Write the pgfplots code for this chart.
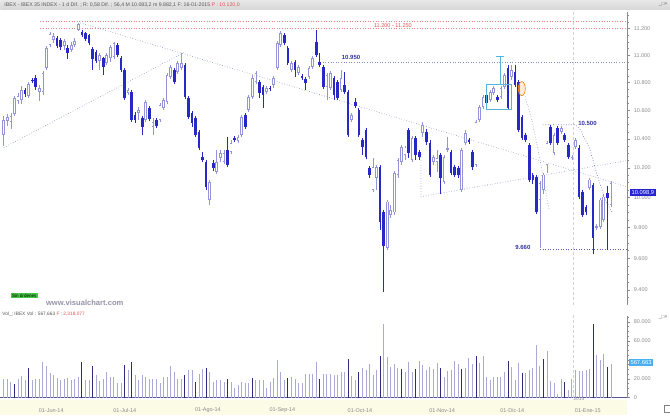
\documentclass[border=0pt]{standalone}
\usepackage{fontspec}
\setmainfont{Liberation Sans}
\usepackage{pgfplots}
\usepackage{pgfplotstable}
\pgfplotsset{compat=1.18}
\definecolor{cdown}{HTML}{2828C4}
\definecolor{cup}{HTML}{9494DA}
\definecolor{vlight}{HTML}{AAAAD6}
\definecolor{vdark}{HTML}{2C2C7A}
\definecolor{trend}{HTML}{8090BC}
\definecolor{axgray}{HTML}{8A8A8A}
\definecolor{lblue}{HTML}{3434A4}
\definecolor{rred}{HTML}{E05050}
\definecolor{boxcyan}{HTML}{58B2DE}
\definecolor{cream}{HTML}{FCFBE6}
\definecolor{pricebox}{HTML}{2424D0}
\definecolor{volbox}{HTML}{4AAEF0}
\definecolor{sgreen}{HTML}{44C844}
\definecolor{wmgray}{HTML}{9494A8}
\newcommand{\fs}[1]{\fontsize{#1}{#1}\selectfont}
\pgfplotsset{candle/.style={draw=none, mark=none, forget plot}}

\pgfplotstableread{
i o h l c
0 10430 10564 10354 10535
1 10528 10578 10493 10557
2 10521 10585 10472 10564
3 10578 10706 10564 10692
4 10670 10728 10649 10706
5 10678 10778 10649 10749
6 10749 10764 10699 10721
7 10706 10807 10692 10793
8 10821 10836 10800 10814
9 10836 10858 10749 10771
10 10735 10785 10670 10764
11 10735 10887 10713 10872
12 10909 11071 10894 11056
13 11078 11175 11063 11160
14 11115 11168 11093 11145
15 11130 11145 11056 11071
16 11115 11130 11041 11063
17 11071 11123 11041 11108
18 11056 11078 10975 11019
19 11041 11100 11026 11078
20 11078 11130 11063 11108
21 11190 11242 11182 11235
22 11175 11190 11138 11152
23 11168 11175 11108 11123
24 11152 11160 11078 11093
25 11048 11063 10894 10975
26 11026 11041 10945 10960
27 10960 11019 10894 11004
28 10982 10990 10858 10916
29 10945 11019 10931 11004
30 10982 11078 10953 11063
31 10990 11100 10975 11093
32 11078 11093 10990 11004
33 10982 10997 10880 10894
34 10894 10909 10678 10692
35 10728 10764 10713 10749
36 10735 10749 10521 10535
37 10571 10592 10514 10535
38 10585 10628 10535 10606
39 10550 10564 10430 10486
40 10535 10678 10521 10663
41 10621 10635 10528 10543
42 10486 10550 10430 10521
43 10535 10550 10479 10493
44 10535 10656 10521 10642
45 10621 10692 10606 10678
46 10663 10872 10649 10858
47 10843 10931 10829 10916
48 10894 10909 10793 10807
49 10880 10960 10865 10945
50 10909 11019 10894 10945
51 10931 10945 10685 10699
52 10692 10706 10543 10557
53 10585 10599 10486 10514
54 10550 10564 10416 10430
55 10451 10465 10326 10340
56 10278 10312 10243 10257
57 10243 10257 10053 10073
58 9986 10121 9953 10107
59 10237 10257 10182 10202
60 10175 10326 10161 10243
61 10271 10326 10243 10305
62 10243 10326 10230 10305
63 10326 10416 10209 10223
64 10312 10395 10298 10375
65 10409 10423 10381 10395
66 10388 10430 10375 10416
67 10430 10571 10416 10557
68 10571 10585 10472 10486
69 10606 10713 10592 10699
70 10699 10858 10685 10836
71 10807 10887 10793 10872
72 10807 10821 10692 10728
73 10771 10785 10621 10713
74 10735 10778 10721 10764
75 10764 10778 10742 10756
76 10785 10851 10764 10836
77 10909 11108 10894 11093
78 11078 11182 11063 11168
79 11152 11168 11078 11093
80 11056 11071 10931 10945
81 10894 10960 10880 10945
82 10953 10967 10843 10894
83 10872 10931 10858 10916
84 10851 10865 10821 10836
85 10829 10843 10749 10800
86 10843 10923 10829 10909
87 10916 10997 10901 10982
88 11100 11190 10990 11004
89 10953 11019 10916 10931
90 10916 10931 10756 10771
91 10771 10872 10678 10858
92 10764 10887 10749 10872
93 10836 10851 10678 10713
94 10807 10821 10678 10692
95 10749 10894 10735 10836
96 10785 10880 10721 10735
97 10735 10749 10416 10430
98 10535 10585 10521 10571
99 10663 10692 10621 10635
100 10606 10621 10416 10430
101 10395 10409 10291 10347
102 10465 10479 10264 10278
103 10202 10216 10134 10155
104 10053 10271 10040 10209
105 10134 10223 10053 10209
106 10209 10223 9787 9840
107 9906 9919 9383 9677
108 9670 9986 9657 9973
109 9886 9953 9866 9919
110 9900 10182 9886 10168
111 10155 10271 10134 10257
112 10243 10361 10223 10347
113 10291 10354 10257 10340
114 10465 10479 10271 10305
115 10257 10423 10243 10409
116 10409 10423 10257 10291
117 10312 10326 10257 10278
118 10444 10521 10416 10500
119 10451 10472 10361 10381
120 10375 10395 10141 10155
121 10243 10291 10223 10278
122 10243 10326 10175 10271
123 10291 10305 10020 10134
124 10107 10291 10094 10278
125 10326 10416 10312 10340
126 10312 10326 10155 10168
127 10209 10223 10141 10155
128 10202 10216 10134 10155
129 10053 10340 10040 10326
130 10375 10465 10361 10444
131 10395 10409 10368 10381
132 10312 10326 10189 10209
133 10223 10535 10209 10521
134 10535 10642 10521 10628
135 10628 10713 10613 10699
136 10713 10728 10642 10656
137 10678 10749 10663 10735
138 10728 10778 10713 10764
139 10699 10713 10663 10678
140 10699 10778 10685 10764
141 10771 10872 10756 10858
142 10909 10931 10606 10621
143 10843 10931 10821 10894
144 10880 10931 10771 10785
145 10807 10821 10451 10465
146 10557 10571 10395 10409
147 10430 10444 10381 10395
148 10361 10375 10107 10121
149 10155 10168 10094 10121
150 10141 10155 9893 9906
151 9986 10114 9670 10100
152 10053 10168 10020 10155
153 10223 10388 10168 10375
154 10486 10500 10361 10375
155 10305 10444 10291 10430
156 10479 10493 10361 10375
157 10451 10493 10437 10479
158 10430 10444 10381 10395
159 10361 10375 10264 10278
160 10271 10291 10257 10278
161 10347 10409 10333 10395
162 10340 10361 9993 10006
163 10040 10053 9873 9886
164 9939 9953 9886 9900
165 10067 10134 10053 10121
166 10087 10100 9625 9735
167 9800 9827 9787 9814
168 9807 9999 9794 9986
169 9853 10020 9840 10006
170 10033 10080 9657 9999
171 9953 10114 9939 10099
}\candles

\pgfplotstableread{
i v d
0 20200 0
1 20200 0
2 16700 0
3 14200 1
4 20200 0
5 22700 0
6 18500 0
7 31800 1
8 18500 0
9 20200 0
10 20200 0
11 37800 0
12 33200 0
13 26200 0
14 23700 0
15 21300 0
16 18500 0
17 20200 0
18 21300 0
19 19200 0
20 20200 0
21 22000 0
22 37800 1
23 18500 0
24 18500 0
25 33200 1
26 23700 0
27 17800 0
28 20200 0
29 27300 0
30 22000 0
31 22000 0
32 15700 0
33 15700 0
34 34300 1
35 29000 0
36 37800 1
37 23700 0
38 18500 0
39 23700 0
40 22000 0
41 20200 0
42 20200 0
43 19500 0
44 15700 0
45 22000 0
46 22000 0
47 33200 0
48 27300 0
49 19500 0
50 19500 0
51 23700 1
52 29700 0
53 29700 0
54 16700 1
55 25500 0
56 30800 0
57 31800 1
58 27300 0
59 16700 0
60 18500 0
61 18500 0
62 16700 0
63 19500 1
64 16700 0
65 10700 0
66 13200 0
67 16700 0
68 15000 0
69 15000 0
70 21300 1
71 18500 0
72 18500 0
73 18500 0
74 10700 0
75 16700 0
76 21300 0
77 39600 0
78 27300 0
79 18500 0
80 21300 1
81 22000 0
82 20200 0
83 15700 0
84 15700 0
85 25500 0
86 24800 0
87 25500 0
88 37800 0
89 19500 1
90 25500 0
91 25500 0
92 25500 0
93 23700 0
94 23700 0
95 27300 0
96 27300 0
97 40600 1
98 23000 0
99 19200 0
100 27300 1
101 31800 0
102 29700 0
103 36100 0
104 23700 0
105 29700 0
106 43800 1
107 78300 0
108 43100 0
109 32500 0
110 36100 0
111 31800 0
112 30800 1
113 27300 0
114 37800 0
115 27300 0
116 30800 1
117 38900 0
118 34300 0
119 29700 0
120 32500 0
121 30800 0
122 36800 0
123 31800 1
124 22000 0
125 28300 0
126 29000 0
127 38900 0
128 35400 0
129 30800 1
130 31800 0
131 42400 0
132 36100 0
133 43800 1
134 36800 0
135 43800 0
136 22000 0
137 19200 0
138 22000 0
139 22000 0
140 22000 0
141 27300 0
142 38900 1
143 32500 0
144 18500 0
145 36800 0
146 26200 1
147 26200 0
148 29000 0
149 31800 0
150 55400 0
151 33200 0
152 41300 1
153 49400 0
154 17800 0
155 15700 0
156 4400 0
157 20200 0
158 16700 1
159 7900 0
160 20200 0
161 29700 0
162 28300 0
163 28300 0
164 29700 0
165 30800 0
166 78300 1
167 44900 0
168 40300 0
169 46600 0
170 32500 1
171 36100 0
}\volumes

\begin{document}
\begin{tikzpicture}[x=1pt,y=1pt]
\fill[white] (0,0) rectangle (670,415);
\shade[top color=gray!18, bottom color=gray!32] (0,405) rectangle (670,415);
\fill[cream] (0,0) rectangle (627,15);

\begin{axis}[
  at={(0pt,110pt)}, anchor=south west,
  scale only axis, width=627pt, height=293pt,
  xmin=-0.985, xmax=175.48,
  ymode=log, ymin=9307.4, ymax=11325.6,
  axis x line=none,
  axis y line*=right,
  y axis line style={axgray, line width=0.5pt},
  ytick={9400,9600,9800,10000,10200,10400,10600,10800,11000,11200},
  yticklabels={9.400,9.600,9.800,10.000,10.200,10.400,10.600,10.800,11.000,11.200},
  minor ytick={9350,9450,9500,9550,9650,9700,9750,9850,9900,9950,10050,10100,10150,10250,10300,10350,10450,10500,10550,10650,10700,10750,10850,10900,10950,11050,11100,11150,11250,11300},
  tick align=outside,
  major tick length=3.5pt, minor tick length=2pt,
  tick style={axgray, line width=0.5pt},
  yticklabel style={font=\fs{5.5}, text=axgray},
  clip=true,
]
\addplot[densely dashed, gray!35, line width=0.5pt] coordinates {(160.5,9000) (160.5,12000)};
\addplot[rred!70, dotted, line width=0.6pt] coordinates {(10.3,11250) (175.48,11250)};
\addplot[rred!70, dotted, line width=0.6pt] coordinates {(10.3,11200) (175.48,11200)};
\addplot[trend, dotted, line width=0.6pt] coordinates {(89.1,10950) (175.48,10950)};
\addplot[trend, dotted, line width=0.6pt] coordinates {(21.55,11242) (175.48,10073)};
\addplot[trend, dotted, line width=0.6pt] coordinates {(0,10340) (51.1,11026)};
\addplot[trend, dotted, line width=0.6pt] coordinates {(117.5,10291) (117.5,10006) (175.48,10250)};
\addplot[lblue!80, dotted, line width=0.6pt] coordinates {(151.8,10500) (160.9,10500) (162.3,10468) (165.1,10330) (167.0,10160) (169.3,9993) (171.5,9893)};
\addplot[trend, dotted, line width=0.6pt] coordinates {(146.8,10700) (148.7,10538) (151,10262) (152.7,10026) (153.5,9926)};
\addplot[lblue!80, dotted, line width=0.6pt] coordinates {(151,9660) (175.48,9660)};
% wicks
\addplot[candle, restrict expr to domain={\thisrow{c}-\thisrow{o}}{0:100000},
  error bars/.cd, y dir=plus, y explicit, error mark=none,
  error bar style={draw=cup, solid, line width=0.7pt}]
  table[x=i, y=l, y error plus expr=\thisrow{h}-\thisrow{l}] {\candles};
\addplot[candle, restrict expr to domain={\thisrow{o}-\thisrow{c}}{0.5:100000},
  error bars/.cd, y dir=plus, y explicit, error mark=none,
  error bar style={draw=cdown, solid, line width=0.7pt}]
  table[x=i, y=l, y error plus expr=\thisrow{h}-\thisrow{l}] {\candles};
% bodies up
\addplot[candle, restrict expr to domain={\thisrow{c}-\thisrow{o}}{0:100000},
  error bars/.cd, y dir=plus, y explicit, error mark=none,
  error bar style={draw=cup, solid, line width=2.7pt}]
  table[x=i, y=o, y error plus expr=\thisrow{c}-\thisrow{o}] {\candles};
\addplot[candle, restrict expr to domain={(\thisrow{c}-\thisrow{o})/\thisrow{o}}{0.0015:1},
  error bars/.cd, y dir=plus, y explicit, error mark=none,
  error bar style={draw=white, solid, line width=1.1pt}]
  table[x=i, y expr=\thisrow{o}*1.0006, y error plus expr=\thisrow{c}*0.9994-\thisrow{o}*1.0006] {\candles};
% bodies down
\addplot[candle, restrict expr to domain={\thisrow{o}-\thisrow{c}}{0.5:100000},
  error bars/.cd, y dir=plus, y explicit, error mark=none,
  error bar style={draw=cdown, solid, line width=2.6pt}]
  table[x=i, y=c, y error plus expr=\thisrow{o}-\thisrow{c}] {\candles};
% annotations
\addplot[boxcyan, line width=0.6pt] coordinates {(135.8,10787) (142.8,10787) (142.8,10608) (135.8,10608) (135.8,10787)};
\addplot[boxcyan, line width=0.6pt] coordinates {(139.7,10787) (139.7,10989)};
\addplot[boxcyan, line width=0.6pt] coordinates {(138.6,10989) (140.9,10989)};
\draw[orange, line width=0.6pt, fill=orange!30, fill opacity=0.5] (axis cs:145.9,10757) ellipse [x radius=3.5pt, y radius=7pt];
\node[text=rred, font=\fs{5.5}] at (axis cs:109.6,11222) {11.200 - 11.250};
\node[text=lblue, font=\bfseries\fs{6}] at (axis cs:97.8,10982) {10.950};
\node[text=lblue, font=\bfseries\fs{6}] at (axis cs:164.4,10507) {10.500};
\node[text=lblue, font=\bfseries\fs{6}] at (axis cs:146.2,9670) {9.660};
\end{axis}

\begin{axis}[
  at={(0pt,17pt)}, anchor=south west,
  scale only axis, width=627pt, height=82pt,
  xmin=-0.985, xmax=175.48, ymin=0, ymax=86540,
  axis x line*=bottom, axis y line*=right,
  x axis line style={vdark!80, line width=0.6pt},
  y axis line style={axgray, line width=0.5pt},
  xtick={10,31,54,75,97,120,140,161},
  xticklabels={01-Jun-14,01-Jul-14,01-Ago-14,01-Sep-14,01-Oct-14,01-Nov-14,01-Dic-14,01-Ene-15},
  x tick style={draw=none},
  xticklabel style={font=\fs{5.5}, text=axgray, anchor=west, yshift=-9pt, xshift=-4pt},
  ytick={0,20000,40000,60000,80000},
  yticklabels={0,20.000,,60.000,80.000},
  minor ytick={5000,10000,15000,25000,30000,35000,45000,50000,55000,65000,70000,75000,85000},
  scaled y ticks=false,
  tick align=outside,
  major tick length=3.5pt, minor tick length=2pt,
  y tick style={axgray, line width=0.5pt},
  yticklabel style={font=\fs{5.5}, text=axgray},
  clip=true,
]
\addplot[densely dashed, gray!35, line width=0.5pt] coordinates {(160.5,0) (160.5,90000)};
\addplot[ycomb, vlight, line width=0.85pt, restrict expr to domain={\thisrow{d}}{0:0.5}] table[x=i, y=v] {\volumes};
\addplot[ycomb, vdark, line width=0.85pt, restrict expr to domain={\thisrow{d}}{0.5:2}] table[x=i, y=v] {\volumes};
\end{axis}

\node[anchor=west, font=\fs{5.2}, text=black!65, inner sep=0pt] at (4,410)
  {IBEX - IBEX 35 INDEX - 1 d Dif. ; R: 0,58 Dif. ; 56,4 M 10.083,2 m 9.882,1 F: 16-01-2015 \textcolor{rred}{P : 10.120,0}};
\node[anchor=east, font=\fs{5}, text=black!60, inner sep=0pt] at (668,410) {\_□×};
\node[anchor=east, font=\fs{5}, text=black!60, inner sep=0pt] at (668,97) {\_□×};
\node[fill=pricebox, text=white, font=\fs{5.8}, inner xsep=1.5pt, inner ysep=1.2pt, anchor=west] at (630,222.5) {10.098,9};
\node[fill=volbox, text=white, font=\fs{5.8}, inner xsep=1.5pt, inner ysep=1.2pt, anchor=west] at (629,52) {567.663};
\node[fill=sgreen, text=black, font=\fs{4.6}, inner xsep=1pt, inner ysep=0.8pt] at (24,119) {Sin órdenes};
\node[text=wmgray, font=\bfseries\fs{7.6}] at (84.5,112) {www.visualchart.com};
\node[anchor=west, font=\fs{4.8}, text=black!65, inner sep=0pt] at (2,101) {Vol\_; IBEX Vol : 567,663 \textcolor{rred}{F : 2,318,077}};
\node[anchor=west, font=\fs{4.8}, text=axgray, inner sep=0pt] at (573.5,15.5) {2015};
\draw[gray, line width=0.4pt] (664,2) rectangle (670,9);
\end{tikzpicture}
\end{document}
